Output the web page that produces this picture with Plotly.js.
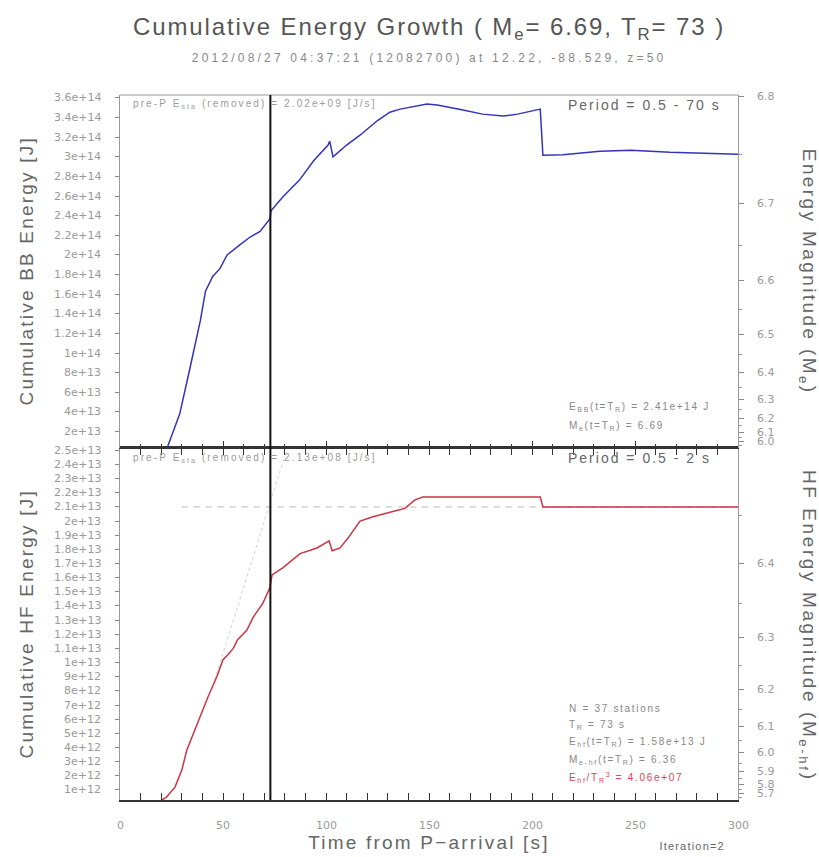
<!DOCTYPE html>
<html>
<head>
<meta charset="utf-8">
<script src="https://cdn.plot.ly/plotly-3.0.1.min.js"></script>
<style>
  html, body { margin: 0; padding: 0; background: #fff; }
  #chart { width: 819px; height: 857px; }
</style>
</head>
<body>
<div id="chart"></div>
<script>
// ---------------- data ----------------
const TR = 73;

// Broadband (0.5 - 70 s) cumulative energy [J]
const bbTime = [23, 29, 34, 39, 41.5, 45, 48.5, 52, 58, 63, 68, 72.8, 73.3, 79, 87, 94, 101, 101.8, 103.4, 110, 116.5, 125, 131, 136, 149, 154, 166.5, 176, 186, 193, 204, 205.3, 215, 233, 248, 267, 300];
const bbEnergy = [0.4e13, 3.8e13, 8.5e13, 13.3e13, 16.3e13, 17.8e13, 18.6e13, 20.0e13, 21.0e13, 21.8e13, 22.4e13, 23.7e13, 24.5e13, 25.9e13, 27.6e13, 29.6e13, 31.2e13, 31.6e13, 30.0e13, 31.2e13, 32.2e13, 33.7e13, 34.55e13, 34.86e13, 35.37e13, 35.27e13, 34.76e13, 34.35e13, 34.15e13, 34.35e13, 34.86e13, 30.16e13, 30.2e13, 30.57e13, 30.68e13, 30.47e13, 30.27e13];

// High-frequency (0.5 - 2 s) cumulative energy [J]
const hfTime = [20.4, 22.6, 26.7, 30, 32.4, 34.8, 38.8, 42.8, 47, 50, 52, 55, 57, 61.6, 64.6, 69.4, 72.8, 73.8, 79, 87.4, 95.6, 101.5, 103, 106.8, 110.7, 116.5, 122.8, 131, 138.3, 143.2, 147, 160, 204, 205.3, 300];
const hfEnergy = [0.29e12, 0.5e12, 1.2e12, 2.4e12, 3.8e12, 4.7e12, 6.1e12, 7.6e12, 9.0e12, 10.2e12, 10.5e12, 11.0e12, 11.6e12, 12.3e12, 13.2e12, 14.2e12, 15.3e12, 16.2e12, 16.7e12, 17.7e12, 18.1e12, 18.6e12, 17.9e12, 18.1e12, 18.8e12, 20.0e12, 20.3e12, 20.6e12, 20.9e12, 21.5e12, 21.7e12, 21.7e12, 21.7e12, 21.0e12, 21.0e12];

// reference lines in the HF panel
const hfRefTime = [30, 300];
const hfRefEnergy = [2.1e13, 2.1e13];
const hfSlopeTime = [46, 80];
const hfSlopeEnergy = [8.8e12, 2.46e13];

// tick labels
const bbTicks = [2e13, 4e13, 6e13, 8e13, 1e14, 1.2e14, 1.4e14, 1.6e14, 1.8e14, 2e14, 2.2e14, 2.4e14, 2.6e14, 2.8e14, 3e14, 3.2e14, 3.4e14, 3.6e14];
const hfTicks = [1e12, 2e12, 3e12, 4e12, 5e12, 6e12, 7e12, 8e12, 9e12, 1e13, 1.1e13, 1.2e13, 1.3e13, 1.4e13, 1.5e13, 1.6e13, 1.7e13, 1.8e13, 1.9e13, 2e13, 2.1e13, 2.2e13, 2.3e13, 2.4e13, 2.5e13];
const bbMagTicks = [5.9, 6.0, 6.1, 6.2, 6.3, 6.4, 6.5, 6.6, 6.7, 6.8];
const hfMagTicks = [5.5, 5.6, 5.7, 5.8, 5.9, 6.0, 6.1, 6.2, 6.3, 6.4];
const xTicks = [0, 50, 100, 150, 200, 250, 300];

// axis ranges
const bbRange = [3.7e12, 3.63e14];
const hfRange = [0.29e12, 2.52e13];
const bbMagRange = [5.918, 6.801];
const hfMagRange = [5.61, 6.509];
const bbMagConst = 2.9, hfMagConst = 2.439;

// ---------------- helpers ----------------
const magToE = (m, c) => Math.pow(10, 1.5 * (m + c));
const fmtE = v => v.toExponential();
const fmtM = m => m.toFixed(1);

const gray = '#666';
const tickGray = '#9a9a9a';
const font = 'Liberation Sans, Arial, sans-serif';
const tickFamily = 'DejaVu Sans, Liberation Sans, sans-serif';
const PW = 618, PH = 705, TOP = 95, LEFT = 120;
const px2x = p => (p - LEFT) / PW;
const px2y = p => 1 - (p - TOP) / PH;

const inMag = (r) => (m) => m >= r[0] - 1e-9 && m <= r[1] + 1e-9;
const bbMinor = bbMagTicks.map(m => m + 0.05).filter(m => m < bbMagRange[1]);
const hfMinor = hfMagTicks.map(m => m + 0.05).filter(m => m < hfMagRange[1]);

const traces = [
  { x: hfRefTime, y: hfRefEnergy, xaxis: 'x', yaxis: 'y', mode: 'lines',
    line: { color: '#b8b8b8', width: 1, dash: '6px,6px' }, hoverinfo: 'skip' },
  { x: hfSlopeTime, y: hfSlopeEnergy, xaxis: 'x', yaxis: 'y', mode: 'lines',
    line: { color: '#d0d0d0', width: 1, dash: 'dot' }, hoverinfo: 'skip' },
  { x: hfTime, y: hfEnergy, xaxis: 'x', yaxis: 'y', mode: 'lines',
    line: { color: '#cc3344', width: 1.5 }, hoverinfo: 'skip' },
  { x: [], y: [], xaxis: 'x', yaxis: 'y2', mode: 'lines', hoverinfo: 'skip' },
  { x: bbTime, y: bbEnergy, xaxis: 'x2', yaxis: 'y3', mode: 'lines',
    line: { color: '#3333bb', width: 1.5 }, hoverinfo: 'skip' },
  { x: [], y: [], xaxis: 'x2', yaxis: 'y4', mode: 'lines', hoverinfo: 'skip' }
];

const splitY = 0.5;

const leftAxis = (range, ticks, domain) => ({
  domain: domain, range: range, tickmode: 'array', tickvals: ticks, showticklabels: false,
  ticks: 'outside', ticklen: 4, tickcolor: '#888', showline: true, linecolor: '#999', linewidth: 1,
  showgrid: false, zeroline: false, fixedrange: true
});
const rightAxis = (magRange, c, ticks, minor, over) => ({
  overlaying: over, side: 'right', anchor: over === 'y' ? 'x' : 'x2',
  range: magRange.map(m => magToE(m, c)),
  tickmode: 'array', tickvals: ticks.map(m => magToE(m, c)), showticklabels: false,
  ticks: 'outside', ticklen: 5, tickcolor: '#888', showline: true, linecolor: '#999', linewidth: 1,
  minor: { tickmode: 'array', tickvals: minor.map(m => magToE(m, c)), ticks: 'outside', ticklen: 3, tickcolor: '#999' },
  showgrid: false, zeroline: false, fixedrange: true
});

// annotations (letter spacing applied after render to middle-anchored texts)
const annotations = [];
const annStyle = [];
function note(text, x, y, opts, spacing, mode) {
  annotations.push(Object.assign({ text: text, xref: 'paper', yref: 'paper', x: x, y: y, showarrow: false }, opts));
  annStyle.push({ s: spacing || 0, mode: mode || 'middle', rot: opts.textangle || 0 });
}
const small = (color) => ({ family: font, size: 10, color: color || '#888' });
const tickFont = { family: tickFamily, size: 11, color: tickGray };

// tick labels placed through the axes' own scales
bbTicks.forEach(v => note(fmtE(v), px2x(103), v, { yref: 'y3', xanchor: 'right', yanchor: 'middle', font: tickFont }));
hfTicks.forEach(v => note(fmtE(v), px2x(103), v, { yref: 'y', xanchor: 'right', yanchor: 'middle', font: tickFont }));
bbMagTicks.filter(inMag(bbMagRange)).forEach(m => note(fmtM(m), px2x(755), magToE(m, bbMagConst),
  { yref: 'y4', xanchor: 'left', yanchor: 'middle', font: tickFont }));
hfMagTicks.filter(inMag(hfMagRange)).forEach(m => note(fmtM(m), px2x(755), magToE(m, hfMagConst),
  { yref: 'y2', xanchor: 'left', yanchor: 'middle', font: tickFont }));
xTicks.forEach(v => note(String(v), v, px2y(825), { xref: 'x', xanchor: 'center', yanchor: 'middle', font: tickFont }));

note('2012/08/27 04:37:21 (12082700) at 12.22, -88.529, z=50', 0.5, px2y(58),
  { xanchor: 'center', yanchor: 'middle', font: { family: font, size: 12, color: '#888' } }, 3.2);
note('Cumulative BB Energy [J]', px2x(26), px2y(271),
  { xanchor: 'center', yanchor: 'middle', textangle: -90, font: { family: font, size: 19, color: gray } }, 2.2);
note('Cumulative HF Energy [J]', px2x(26), px2y(624),
  { xanchor: 'center', yanchor: 'middle', textangle: -90, font: { family: font, size: 19, color: gray } }, 2.2);
note('Energy Magnitude (M<sub>e</sub>)', px2x(808), px2y(271),
  { xanchor: 'center', yanchor: 'middle', textangle: 90, font: { family: font, size: 19, color: gray } }, 2.4);
note('HF Energy Magnitude (M<sub>e-hf</sub>)', px2x(808), px2y(626),
  { xanchor: 'center', yanchor: 'middle', textangle: 90, font: { family: font, size: 19, color: gray } }, 2.6);
// top panel notes
note('pre-P E<sub>sta</sub> (removed) = 2.02e+09 [J/s]', px2x(131), px2y(104),
  { xanchor: 'left', yanchor: 'middle', font: small('#9a9a9a') }, 2.1, 'start');
note('Period = 0.5 - 70 s', px2x(723), px2y(105),
  { xanchor: 'right', yanchor: 'middle', font: { family: font, size: 14, color: gray } }, 2.0, 'end');
note('E<sub>BB</sub>(t=T<sub>R</sub>) = 2.41e+14 J', px2x(567), px2y(407),
  { xanchor: 'left', yanchor: 'middle', font: small() }, 1.7, 'start');
note('M<sub>e</sub>(t=T<sub>R</sub>) = 6.69', px2x(567), px2y(426),
  { xanchor: 'left', yanchor: 'middle', font: small() }, 1.7, 'start');
// bottom panel notes
note('pre-P E<sub>sta</sub> (removed) = 2.13e+08 [J/s]', px2x(131), px2y(458),
  { xanchor: 'left', yanchor: 'middle', font: small('#9a9a9a') }, 2.1, 'start');
note('Period = 0.5 - 2 s', px2x(713), px2y(458),
  { xanchor: 'right', yanchor: 'middle', font: { family: font, size: 14, color: gray } }, 2.0, 'end');
note('N = 37 stations', px2x(567), px2y(708), { xanchor: 'left', yanchor: 'middle', font: small() }, 1.7, 'start');
note('T<sub>R</sub> = 73 s', px2x(567), px2y(725), { xanchor: 'left', yanchor: 'middle', font: small() }, 1.7, 'start');
note('E<sub>hf</sub>(t=T<sub>R</sub>) = 1.58e+13 J', px2x(567), px2y(742), { xanchor: 'left', yanchor: 'middle', font: small() }, 1.7, 'start');
note('M<sub>e-hf</sub>(t=T<sub>R</sub>) = 6.36', px2x(567), px2y(760), { xanchor: 'left', yanchor: 'middle', font: small() }, 1.7, 'start');
note('E<sub>hf</sub>/T<sub>R</sub><sup>3</sup> = 4.06e+07', px2x(567), px2y(777), { xanchor: 'left', yanchor: 'middle', font: small('#dd4455') }, 1.7, 'start');
note('Iteration=2', px2x(692), px2y(846), { xanchor: 'center', yanchor: 'middle', font: { family: font, size: 11, color: gray } }, 1.2);

const layout = {
  width: 819, height: 857,
  margin: { l: 120, r: 81, t: 95, b: 57 },
  paper_bgcolor: '#fff', plot_bgcolor: '#fff',
  showlegend: false,
  font: { family: font, color: gray },
  title: {
    text: 'Cumulative Energy Growth ( M<sub>e</sub>= 6.69, T<sub>R</sub>= 73 )',
    font: { family: font, size: 24, color: '#555' },
    x: 0.5, xref: 'paper', y: 1 - 27 / 857, yref: 'container', yanchor: 'middle'
  },
  xaxis: {
    domain: [0, 1], range: [0, 300], anchor: 'y', tickmode: 'array', tickvals: xTicks, showticklabels: false,
    ticks: 'inside', ticklen: 7, tickcolor: '#333', showline: true, linecolor: '#333', linewidth: 1.5,
    mirror: 'allticks',
    minor: { tickmode: 'linear', dtick: 10, ticks: 'inside', ticklen: 4, tickcolor: '#333' },
    title: { text: 'Time from P\u2212arrival [s]', font: { family: font, size: 19, color: gray }, standoff: 35 },
    showgrid: false, zeroline: false, fixedrange: true
  },
  xaxis2: {
    matches: 'x', anchor: 'y3', range: [0, 300], showticklabels: false, tickmode: 'array', tickvals: xTicks,
    ticks: 'inside', ticklen: 7, tickcolor: '#333', showline: true, linecolor: '#333', linewidth: 1.5,
    minor: { tickmode: 'linear', dtick: 10, ticks: 'inside', ticklen: 4, tickcolor: '#333' },
    showgrid: false, zeroline: false, fixedrange: true
  },
  yaxis: leftAxis(hfRange, hfTicks, [0, splitY]),
  yaxis2: rightAxis(hfMagRange, hfMagConst, hfMagTicks, hfMinor, 'y'),
  yaxis3: leftAxis(bbRange, bbTicks, [splitY, 1]),
  yaxis4: rightAxis(bbMagRange, bbMagConst, bbMagTicks, bbMinor, 'y3'),
  shapes: [
    { type: 'line', xref: 'paper', yref: 'paper', x0: 0, x1: 1, y0: 1, y1: 1, line: { color: '#999', width: 1 } },
    { type: 'line', xref: 'x', yref: 'paper', x0: TR, x1: TR, y0: 0, y1: 1, line: { color: '#111', width: 2 } }
  ],
  annotations: annotations
};

// widen text like the original renderer, keeping the chosen edge fixed (middle-anchored texts)
function spaceText(el, s, mode, rot) {
  if (!el) return;
  const r0 = el.getBoundingClientRect();
  el.style.letterSpacing = s + 'px';
  const r1 = el.getBoundingClientRect();
  let d;
  if (rot) {
    d = ((r0.top + r0.bottom) / 2 - (r1.top + r1.bottom) / 2) * (rot > 0 ? 1 : -1);
  } else {
    const edge = (r) => mode === 'start' ? r.left : mode === 'end' ? r.right : (r.left + r.right) / 2;
    d = edge(r0) - edge(r1);
  }
  el.setAttribute('dx', (parseFloat(el.getAttribute('dx') || 0) + d).toFixed(2));
}

Plotly.newPlot('chart', traces, layout, { staticPlot: true, displayModeBar: false }).then(function () {
  const root = document.getElementById('chart');
  spaceText(root.querySelector('.gtitle'), 1.9, 'middle');
  spaceText(root.querySelector('.xtitle'), 2.2, 'middle');
  root.querySelectorAll('g.annotation').forEach(function (g) {
    const i = +g.getAttribute('data-index');
    const st = annStyle[i];
    if (st && st.s) spaceText(g.querySelector('text'), st.s, st.mode, st.rot);
  });
});
</script>
</body>
</html>
